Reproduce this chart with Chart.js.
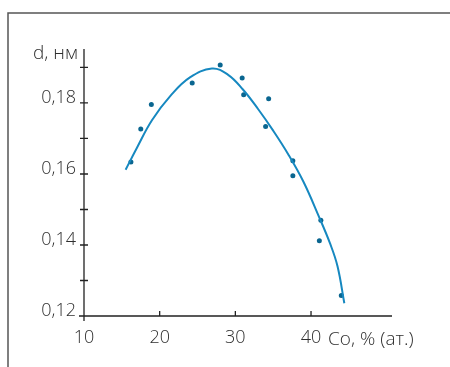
<!DOCTYPE html>
<html>
<head>
<meta charset="utf-8">
<script src="https://cdn.jsdelivr.net/npm/chart.js@4/dist/chart.umd.min.js"></script>
<style>
  html, body { margin: 0; padding: 0; background: #fff; }
  #wrap { width: 450px; height: 367px; }
</style>
</head>
<body>
<div id="wrap"><canvas id="myChart" width="450" height="367"></canvas></div>
<script>
// Measured points: Co content, % (at.) and d, nm
var pointX = [16.2, 17.5, 18.9, 24.3, 28.0, 30.9, 31.1, 34.4, 34.0, 37.6, 37.6, 41.3, 41.1, 44.0];
var pointY = [0.1634, 0.1727, 0.1796, 0.1856, 0.1907, 0.1870, 0.1823, 0.1812, 0.1734, 0.1637, 0.1595, 0.1470, 0.1412, 0.1258];

// Smooth fitted curve
var curveX = [15.5, 17, 19, 21.5, 24, 26.9, 29, 31, 33, 35, 37, 39, 41, 42.5, 43.5, 44.4];
var curveY = [0.1612, 0.1674, 0.1752, 0.1822, 0.1872, 0.1897, 0.1880, 0.1838, 0.1783, 0.1722, 0.1655, 0.1578, 0.1482, 0.1405, 0.1340, 0.1236];

// Tick values
var xTicks = [10, 20, 30, 40];
var yTicks = [0.12, 0.13, 0.14, 0.15, 0.16, 0.17, 0.18, 0.19];

var fontFamily = '"Open Sans", Lato, sans-serif';
var textColor = '#2e2e2e';

function toXY(xs, ys) {
    return xs.map(function (x, i) { return { x: x, y: ys[i] }; });
}

// Draws the frame, the axes with their ticks and the axis titles
var axesPlugin = {
    id: 'axesPlugin',
    afterDraw: function (chart) {
        var ctx = chart.ctx;
        var xs = chart.scales.x;
        var ys = chart.scales.y;
        var x0 = xs.getPixelForValue(10);
        var y0 = ys.getPixelForValue(0.12);
        var top = chart.chartArea.top;
        var right = chart.chartArea.right;

        ctx.save();
        // outer frame
        ctx.strokeStyle = '#555';
        ctx.lineWidth = 1.5;
        ctx.beginPath();
        ctx.moveTo(8, 367);
        ctx.lineTo(8, 13);
        ctx.lineTo(450, 13);
        ctx.stroke();

        // axes
        ctx.strokeStyle = '#222';
        ctx.lineWidth = 1.3;
        ctx.beginPath();
        ctx.moveTo(x0, top);
        ctx.lineTo(x0, y0 + 5);
        ctx.moveTo(x0 - 5, y0);
        ctx.lineTo(right, y0);
        yTicks.forEach(function (v) {
            var py = ys.getPixelForValue(v);
            ctx.moveTo(x0 - 4, py);
            ctx.lineTo(x0 + 4, py);
        });
        xTicks.forEach(function (v) {
            if (v === 10) return;
            var px = xs.getPixelForValue(v);
            ctx.moveTo(px, y0);
            ctx.lineTo(px, y0 - 5);
        });
        ctx.stroke();

        // axis titles
        ctx.fillStyle = textColor;
        ctx.font = '300 19px ' + fontFamily;
        ctx.textBaseline = 'alphabetic';
        ctx.textAlign = 'left';
        ctx.fillText('Co, % (ат.)', 328, 345);
        ctx.fillText('d, нм', 33, 59);
        ctx.restore();
    }
};

var ctx = document.getElementById('myChart').getContext('2d');
var myChart = new Chart(ctx, {
    type: 'scatter',
    data: {
        datasets: [{
            label: 'curve',
            data: toXY(curveX, curveY),
            showLine: true,
            borderColor: '#1688c0',
            borderWidth: 2,
            pointRadius: 0,
            tension: 0.4,
            fill: false
        }, {
            label: 'points',
            data: toXY(pointX, pointY),
            showLine: false,
            pointRadius: 2.5,
            pointBackgroundColor: '#0a6690',
            pointBorderWidth: 0
        }]
    },
    options: {
        responsive: false,
        animation: false,
        layout: { padding: { top: 49, right: 58, left: 0, bottom: 0 } },
        plugins: {
            legend: { display: false },
            tooltip: { enabled: false }
        },
        scales: {
            x: {
                type: 'linear',
                min: 10,
                max: 50.7,
                afterBuildTicks: function (scale) {
                    scale.ticks = xTicks.map(function (v) { return { value: v }; });
                },
                afterFit: function (scale) { scale.height = 51; },
                grid: { display: false, drawTicks: false },
                border: { display: false },
                ticks: {
                    padding: 11,
                    color: textColor,
                    font: { family: fontFamily, size: 18, weight: 300 },
                    maxRotation: 0,
                    autoSkip: false
                }
            },
            y: {
                type: 'linear',
                min: 0.12,
                max: 0.1952,
                afterBuildTicks: function (scale) {
                    scale.ticks = yTicks.map(function (v) { return { value: v }; });
                },
                afterFit: function (scale) { scale.width = 84; },
                grid: { display: false, drawTicks: false },
                border: { display: false },
                ticks: {
                    padding: 8,
                    labelOffset: -5,
                    color: textColor,
                    font: { family: fontFamily, size: 18, weight: 300 },
                    autoSkip: false,
                    callback: function (v) {
                        var n = Math.round(v * 100);
                        if (n % 2 !== 0 || n > 18) return '';
                        return (n / 100).toFixed(2).replace('.', ',');
                    }
                }
            }
        }
    },
    plugins: [axesPlugin]
});
</script>
</body>
</html>
